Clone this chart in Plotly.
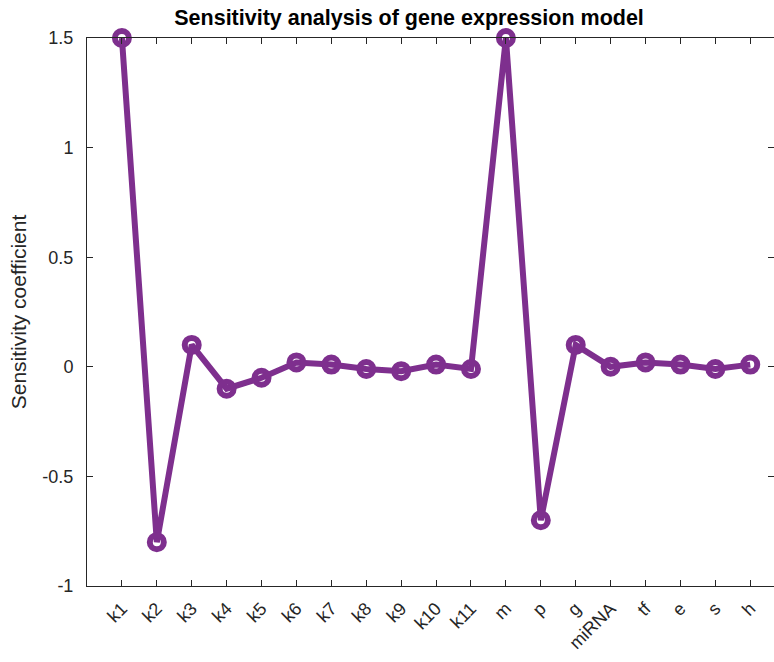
import plotly.graph_objects as go

params = ["k1", "k2", "k3", "k4", "k5", "k6", "k7", "k8", "k9", "k10",
          "k11", "m", "p", "g", "miRNA", "tf", "e", "s", "h"]
sensitivity = [1.5, -0.8, 0.1, -0.1, -0.05, 0.02, 0.01, -0.01, -0.02, 0.01,
               -0.01, 1.5, -0.7, 0.1, 0.0, 0.02, 0.01, -0.01, 0.01]
ytick_vals = [-1, -0.5, 0, 0.5, 1, 1.5]
ytick_text = ["-1", "-0.5", "0", "0.5", "1", "1.5"]

purple = "#7E2F8E"
axis_col = "#262626"
font_fam = "Liberation Sans, Arial, sans-serif"

xpos = list(range(1, len(params) + 1))

fig = go.Figure()
fig.add_trace(go.Scatter(
    x=xpos, y=sensitivity, mode="lines+markers",
    line=dict(color=purple, width=6),
    marker=dict(symbol="circle-open", size=14, color=purple,
                line=dict(color=purple, width=6)),
    cliponaxis=False,
    showlegend=False,
))

fig.update_layout(
    width=774, height=662,
    margin=dict(l=87, r=0, t=38, b=76),
    paper_bgcolor="white", plot_bgcolor="white",
    font=dict(family=font_fam, color=axis_col, size=18),
    title=dict(text="<b>Sensitivity analysis of gene expression model</b>",
               x=0.5285, xanchor="center", y=0.974, yanchor="middle",
               font=dict(size=21.5, color="black")),
)
fig.update_xaxes(
    range=[0, 19.68], tickmode="array", tickvals=xpos, ticktext=params,
    tickangle=-45, ticks="inside", ticklen=6, tickcolor=axis_col,
    showline=True, linecolor=axis_col, linewidth=1, mirror="ticks",
    showgrid=False, zeroline=False, tickfont=dict(size=18),
    ticklabelstandoff=4,
)
fig.update_yaxes(
    range=[-1, 1.5], tickmode="array", tickvals=ytick_vals, ticktext=ytick_text,
    ticks="inside", ticklen=6, tickcolor=axis_col,
    showline=True, linecolor=axis_col, linewidth=1, mirror="ticks",
    showgrid=False, zeroline=False, tickfont=dict(size=18),
    ticklabelstandoff=9,
    title=dict(text="Sensitivity coefficient", font=dict(size=21), standoff=10),
)

fig.write_html("out.html")
